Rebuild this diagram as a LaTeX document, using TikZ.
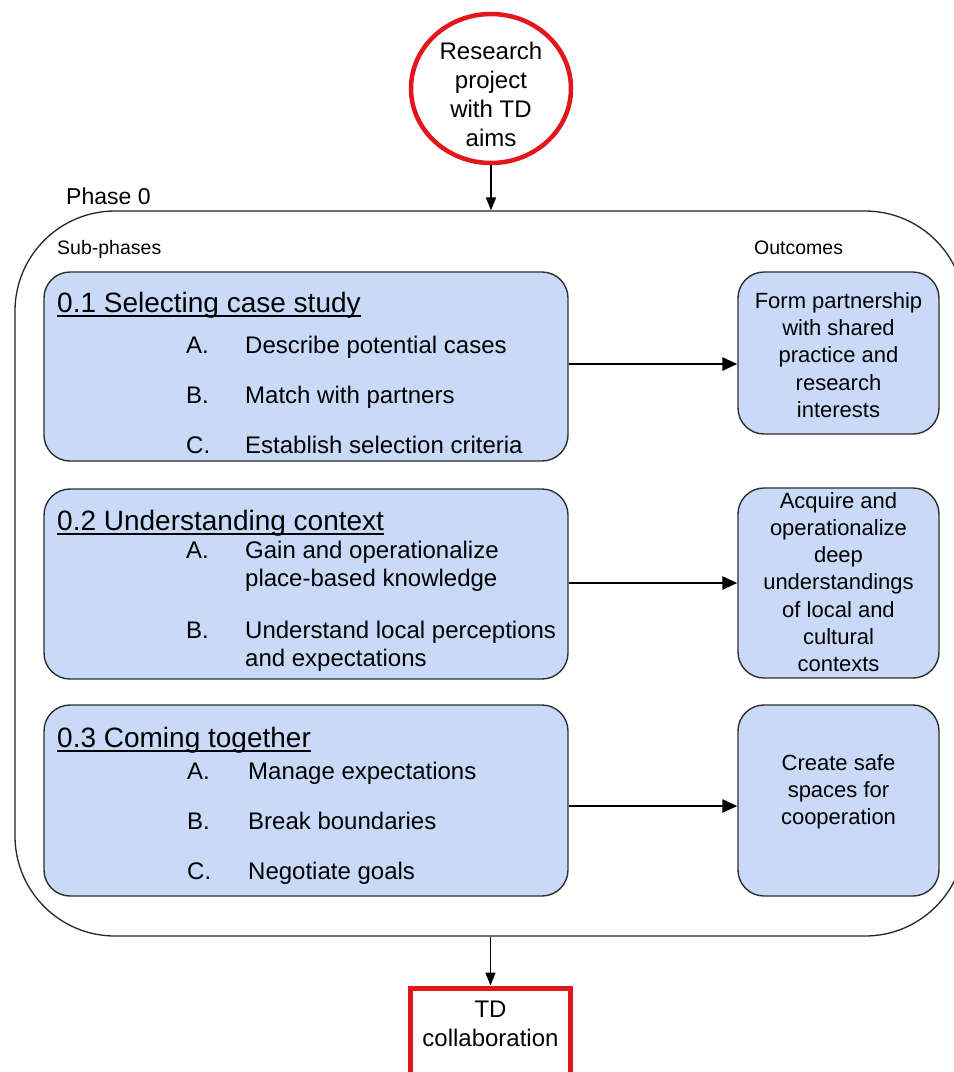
\documentclass[tikz,border=0pt]{standalone}
\usepackage{fontspec}
\setmainfont{Liberation Sans}
\usetikzlibrary{arrows.meta,shapes.geometric}
\definecolor{boxblue}{HTML}{C9DAF8}
\definecolor{boxline}{HTML}{2E2E2E}
\definecolor{redc}{HTML}{E3171B}
\begin{document}
\begin{tikzpicture}[x=1pt,y=-1pt,
  subbox/.style={draw=boxline, line width=1.4pt, fill=boxblue, rounded corners=26pt, inner sep=0pt, minimum width=524pt},
  outbox/.style={draw=boxline, line width=1.4pt, fill=boxblue, rounded corners=26pt, inner sep=0pt, minimum width=201pt},
  titletext/.style={anchor=base west, inner sep=0pt, font=\fontsize{28}{33}\selectfont},
  itemtext/.style={anchor=base west, inner sep=0pt, font=\fontsize{24}{29}\selectfont},
  outtext/.style={inner sep=0pt, font=\fontsize{22}{27.2}\selectfont, align=center},
  bigtext/.style={inner sep=0pt, font=\fontsize{24}{29}\selectfont, align=center},
  smalltext/.style={anchor=base west, inner sep=0pt, font=\fontsize{19.5}{23}\selectfont},
  harrow/.style={-{Triangle[length=15pt,width=13pt]}, line width=2.8pt},
  varrow/.style={-{Triangle[length=13pt,width=10pt]}, line width=1.7pt},
  uline/.style={line width=1.7pt}
]
\useasboundingbox (0,0) rectangle (954,1072);
\fill[white] (0,0) rectangle (954,1072);
\clip (0,0) rectangle (954,1072);

% start circle
\node[ellipse, draw=redc, line width=4.5pt, minimum width=160pt, minimum height=149pt, inner sep=0pt, fill=white] (circ) at (491,88.5) {};
\node[bigtext] (circtxt) at (491,94) {Research\\project\\with TD\\aims};

% phase container
\node[draw=black!85, line width=1.3pt, rounded corners=100pt, minimum width=950pt, minimum height=725pt, inner sep=0pt] (phase) at (490,573.5) {};
\node[anchor=base west, inner sep=0pt, font=\fontsize{23}{27}\selectfont] (phaselbl) at (66,204) {Phase 0};
\node[smalltext] (sublbl) at (57,254) {Sub-phases};
\node[smalltext] (outlbl) at (754,254) {Outcomes};

% sub-phase boxes
\node[subbox, minimum height=189pt] (s1) at (306,366.5) {};
\node[subbox, minimum height=190pt] (s2) at (306,584) {};
\node[subbox, minimum height=191pt] (s3) at (306,800.5) {};

% outcome boxes
\node[outbox, minimum height=162pt] (o1) at (838.5,353) {};
\node[outbox, minimum height=190pt] (o2) at (838.5,583) {};
\node[outbox, minimum height=191pt] (o3) at (838.5,800.5) {};

% texts of 0.1
\node[titletext] (t1) at (57,312) {0.1 Selecting case study};
\draw[uline] ([yshift=-3.8pt]t1.base west) -- ([yshift=-3.8pt]t1.base east);
\node[itemtext] (t1aL) at (186,353) {A.};
\node[itemtext] (t1a) at (245,353) {Describe potential cases};
\node[itemtext] (t1bL) at (186,403) {B.};
\node[itemtext] (t1b) at (245,403) {Match with partners};
\node[itemtext] (t1cL) at (186,453) {C.};
\node[itemtext] (t1c) at (245,453) {Establish selection criteria};

% texts of 0.2
\node[titletext] (t2) at (57,530) {0.2 Understanding context};
\draw[uline] ([yshift=-3.8pt]t2.base west) -- ([yshift=-3.8pt]t2.base east);
\node[itemtext] (t2aL) at (186,558) {A.};
\node[itemtext] (t2a1) at (245,558) {Gain and operationalize};
\node[itemtext] (t2a2) at (245,586) {place-based knowledge};
\node[itemtext] (t2bL) at (186,638) {B.};
\node[itemtext] (t2b1) at (245,638) {Understand local perceptions};
\node[itemtext] (t2b2) at (245,666) {and expectations};

% texts of 0.3
\node[titletext] (t3) at (57,747) {0.3 Coming together};
\draw[uline] ([yshift=-3.8pt]t3.base west) -- ([yshift=-3.8pt]t3.base east);
\node[itemtext] (t3aL) at (187,779) {A.};
\node[itemtext] (t3a) at (248,779) {Manage expectations};
\node[itemtext] (t3bL) at (187,829) {B.};
\node[itemtext] (t3b) at (248,829) {Break boundaries};
\node[itemtext] (t3cL) at (187,879) {C.};
\node[itemtext] (t3c) at (248,879) {Negotiate goals};

% outcome texts
\node[outtext] (o1txt) at (838.5,355) {Form partnership\\with shared\\practice and\\research\\interests};
\node[outtext] (o2txt) at (838.5,582) {Acquire and\\operationalize\\deep\\understandings\\of local and\\cultural\\contexts};
\node[outtext] (o3txt) at (838.5,792) {Create safe\\spaces for\\cooperation};

% end box
\node[draw=redc, line width=5pt, minimum width=160pt, minimum height=130pt, inner sep=0pt, anchor=north, fill=white] (td) at (490.5,985.5) {};
\node[bigtext] (tdtxt) at (490.5,1024) {TD\\collaboration};

% connectors
\draw[varrow] (circ.south) -- (circ.south |- phase.north);
\draw[harrow] (s1.east |- 0,364) -- (o1.west |- 0,364);
\draw[harrow] (s2.east |- 0,583) -- (o2.west |- 0,583);
\draw[harrow] (s3.east |- 0,806) -- (o3.west |- 0,806);
\draw[varrow] (td.north |- phase.south) -- (td.north);
\end{tikzpicture}
\end{document}
